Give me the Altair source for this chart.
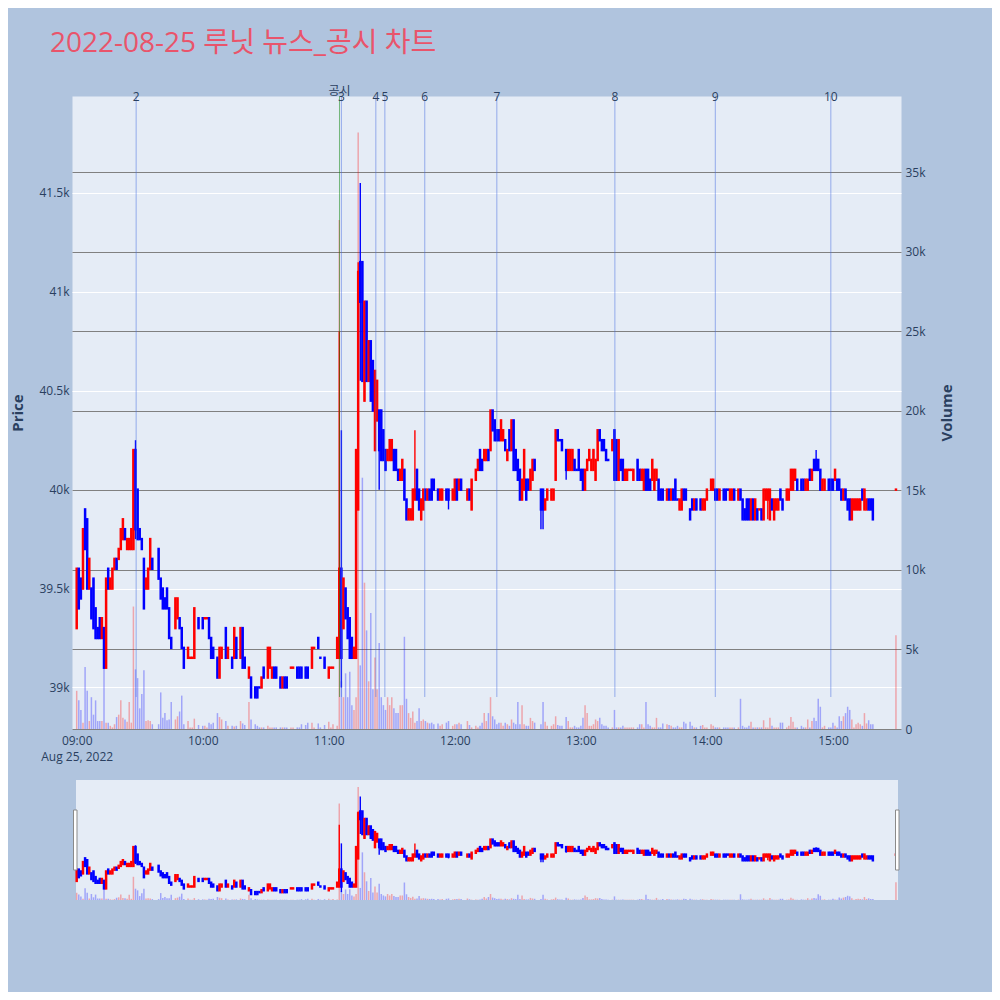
import altair as alt
import pandas as pd

TITLE = "2022-08-25 루닛 뉴스_공시 차트"
SESSION_DATE = "2022-08-25"

# minutes after 09:00 for each 1-minute candle
MINUTE = [
    0, 1, 2, 3, 4, 5, 6, 7, 8, 9,
    10, 11, 12, 13, 14, 15, 16, 17, 18, 19,
    20, 21, 22, 23, 24, 25, 26, 27, 28, 29,
    30, 31, 32, 33, 34, 35, 36, 39, 40, 41,
    42, 43, 44, 45, 47, 48, 49, 50, 51, 53,
    54, 55, 56, 58, 60, 61, 62, 63, 64, 65,
    67, 68, 69, 71, 72, 74, 75, 76, 78, 79,
    80, 82, 83, 85, 86, 87, 88, 89, 91, 92,
    93, 94, 95, 97, 98, 99, 100, 102, 103, 105,
    106, 107, 109, 110, 112, 113, 115, 116, 118, 120,
    121, 122, 124, 125, 126, 127, 128, 129, 130, 131,
    132, 133, 134, 135, 136, 137, 138, 139, 140, 141,
    142, 143, 144, 145, 146, 147, 148, 149, 150, 151,
    152, 153, 154, 155, 156, 157, 158, 159, 160, 161,
    162, 163, 164, 165, 166, 167, 168, 169, 170, 172,
    173, 174, 176, 177, 179, 180, 181, 182, 183, 186,
    187, 188, 190, 191, 192, 193, 194, 195, 196, 197,
    198, 199, 200, 201, 202, 203, 204, 205, 206, 207,
    208, 209, 210, 211, 212, 213, 214, 215, 216, 217,
    218, 221, 222, 223, 224, 226, 227, 228, 229, 230,
    231, 233, 234, 235, 236, 237, 238, 239, 240, 241,
    242, 243, 244, 245, 246, 247, 248, 249, 250, 251,
    252, 253, 255, 256, 257, 258, 259, 260, 261, 262,
    263, 264, 265, 267, 268, 269, 270, 271, 272, 273,
    274, 275, 276, 277, 278, 279, 281, 282, 283, 284,
    285, 286, 287, 288, 289, 290, 292, 293, 294, 295,
    297, 298, 299, 300, 302, 303, 304, 305, 306, 308,
    309, 310, 311, 312, 313, 315, 316, 317, 318, 319,
    320, 321, 322, 323, 324, 325, 326, 327, 328, 329,
    330, 331, 332, 333, 334, 335, 336, 338, 339, 340,
    341, 342, 343, 345, 346, 347, 348, 349, 350, 351,
    352, 353, 354, 355, 356, 358, 359, 360, 361, 362,
    363, 364, 365, 366, 367, 368, 369, 370, 371, 372,
    373, 374, 375, 376, 377, 378, 379, 390,
]

OPEN = [
    39300, 39600, 39550, 39500, 39900, 39850, 39500, 39500, 39550, 39400,
    39300, 39350, 39250, 39300, 39100, 39600, 39500, 39500, 39600, 39650,
    39650, 39700, 39750, 39800, 39700, 39700, 39700, 39700, 40200, 40000,
    39800, 39750, 39650, 39500, 39500, 39600, 39650, 39700, 39550, 39500,
    39450, 39500, 39400, 39250, 39300, 39350, 39350, 39300, 39200, 39150,
    39150, 39150, 39150, 39350, 39350, 39350, 39350, 39350, 39250, 39200,
    39150, 39050, 39150, 39300, 39150, 39150, 39150, 39250, 39150, 39300,
    39150, 39050, 39050, 39000, 39000, 39000, 39000, 39100, 39050, 39100,
    39050, 39100, 39100, 39050, 39000, 39050, 39050, 39100, 39100, 39100,
    39100, 39100, 39100, 39100, 39100, 39200, 39250, 39150, 39150, 39050,
    39100, 39100, 39150, 39150, 39600, 39300, 39500, 39400, 39350, 39250,
    39150, 39150, 39900, 41150, 41150, 40450, 40950, 40550, 40750, 40650,
    40200, 40350, 40400, 40400, 40300, 40200, 40150, 40150, 40150, 40200,
    40200, 40100, 40050, 40050, 40100, 39950, 39850, 39850, 39850, 39950,
    40100, 40000, 39850, 39900, 40000, 39950, 40000, 40050, 40050, 40000,
    39950, 39950, 40000, 40000, 39950, 39950, 40050, 40000, 40050, 39950,
    40000, 39900, 40050, 40100, 40200, 40150, 40150, 40150, 40200, 40200,
    40400, 40350, 40300, 40300, 40250, 40250, 40250, 40150, 40300, 40200,
    40350, 40200, 40150, 40100, 39950, 40000, 40050, 40050, 40000, 40050,
    40150, 40000, 40000, 39900, 39950, 39950, 39950, 40050, 40300, 40250,
    40250, 40200, 40100, 40100, 40100, 40150, 40100, 40200, 40100, 40100,
    40000, 40100, 40150, 40100, 40100, 40050, 40150, 40300, 40250, 40250,
    40200, 40150, 40200, 40300, 40250, 40050, 40150, 40150, 40050, 40050,
    40100, 40100, 40050, 40150, 40100, 40050, 40000, 40100, 40100, 40050,
    40050, 40000, 40050, 40050, 40000, 40000, 39950, 40000, 39950, 40000,
    40050, 39950, 39900, 39900, 40000, 40000, 39900, 39950, 39900, 39950,
    39950, 39900, 39900, 39950, 40000, 40000, 40000, 40000, 39950, 40000,
    40000, 40000, 39950, 39950, 40000, 39950, 40000, 39950, 39900, 39950,
    39950, 39850, 39950, 39850, 39900, 39900, 39900, 39850, 39950, 39950,
    39850, 39950, 39850, 39900, 39900, 40000, 39950, 39950, 39950, 40000,
    40000, 40050, 40050, 40050, 40050, 40000, 40000, 40100, 40050, 40150,
    40150, 40150, 40100, 40000, 40000, 40050, 40050, 40050, 40050, 40050,
    40050, 40000, 39950, 40000, 39950, 39950, 39850, 39900, 39900, 39900,
    39900, 40000, 39900, 39900, 39950, 39950, 39950, 40000,
]

HIGH = [
    39600, 39600, 39550, 39800, 39900, 39850, 39650, 39500, 39550, 39400,
    39300, 39350, 39350, 39300, 39550, 39600, 39550, 39600, 39650, 39650,
    39700, 39800, 39850, 39800, 39750, 39750, 39800, 40200, 40250, 40000,
    39800, 39750, 39650, 39550, 39600, 39750, 39650, 39700, 39550, 39500,
    39450, 39500, 39400, 39250, 39450, 39450, 39350, 39300, 39200, 39200,
    39150, 39150, 39400, 39350, 39350, 39350, 39350, 39350, 39250, 39200,
    39150, 39200, 39200, 39300, 39200, 39150, 39300, 39250, 39300, 39300,
    39150, 39100, 39050, 39000, 39000, 39000, 39050, 39100, 39200, 39200,
    39100, 39100, 39100, 39050, 39050, 39050, 39050, 39100, 39100, 39100,
    39100, 39100, 39100, 39100, 39200, 39200, 39250, 39150, 39150, 39100,
    39100, 39100, 39250, 40800, 40300, 39550, 39500, 39400, 39350, 39250,
    39200, 40200, 41150, 41550, 41150, 40950, 40950, 40750, 40750, 40650,
    40600, 40550, 40400, 40400, 40300, 40200, 40200, 40250, 40250, 40200,
    40200, 40100, 40100, 40150, 40100, 39950, 39900, 39900, 40000, 40300,
    40100, 40000, 39950, 40000, 40000, 40000, 40000, 40050, 40050, 40000,
    40000, 40000, 40000, 40000, 40000, 40050, 40050, 40050, 40050, 40000,
    40000, 40050, 40100, 40150, 40200, 40150, 40200, 40200, 40200, 40400,
    40400, 40350, 40300, 40300, 40350, 40300, 40250, 40200, 40300, 40350,
    40350, 40200, 40150, 40100, 40050, 40200, 40050, 40050, 40100, 40150,
    40150, 40000, 40000, 39950, 40000, 40000, 40000, 40300, 40300, 40250,
    40250, 40200, 40200, 40200, 40200, 40150, 40100, 40200, 40100, 40100,
    40100, 40150, 40200, 40150, 40200, 40150, 40300, 40300, 40250, 40250,
    40200, 40150, 40250, 40300, 40250, 40250, 40150, 40150, 40100, 40100,
    40100, 40100, 40100, 40150, 40100, 40100, 40100, 40100, 40100, 40050,
    40150, 40100, 40100, 40050, 40000, 40000, 40000, 40000, 40000, 40000,
    40050, 39950, 39950, 40000, 40000, 40000, 39900, 39950, 39950, 39950,
    39950, 39950, 39950, 40000, 40050, 40050, 40000, 40000, 40000, 40000,
    40000, 40000, 40000, 40000, 40000, 40000, 40000, 39950, 39900, 39950,
    39950, 39950, 39950, 39950, 39900, 39900, 39900, 40000, 40000, 40000,
    40000, 39950, 39950, 39950, 39950, 40000, 39950, 40000, 40000, 40100,
    40100, 40100, 40050, 40050, 40050, 40050, 40050, 40100, 40100, 40150,
    40200, 40150, 40100, 40050, 40050, 40050, 40050, 40050, 40100, 40050,
    40050, 40000, 40000, 40000, 39950, 39950, 39950, 39950, 39950, 39950,
    39950, 40000, 40000, 39950, 39950, 39950, 39950, 40000,
]

LOW = [
    39300, 39400, 39450, 39500, 39700, 39500, 39500, 39350, 39300, 39250,
    39250, 39250, 39250, 39100, 39100, 39500, 39500, 39500, 39600, 39600,
    39650, 39700, 39750, 39750, 39700, 39700, 39700, 39700, 39750, 39750,
    39750, 39700, 39400, 39500, 39500, 39600, 39600, 39550, 39450, 39400,
    39400, 39400, 39250, 39200, 39300, 39350, 39300, 39200, 39100, 39150,
    39150, 39150, 39150, 39300, 39300, 39350, 39350, 39250, 39150, 39150,
    39050, 39050, 39150, 39150, 39150, 39100, 39150, 39150, 39150, 39100,
    39100, 39050, 38950, 38950, 38950, 39000, 39000, 39050, 39050, 39100,
    39050, 39050, 39050, 39000, 39000, 39000, 39000, 39100, 39100, 39050,
    39050, 39050, 39050, 39050, 39100, 39200, 39200, 39150, 39100, 39050,
    39100, 39100, 39150, 39150, 39000, 39300, 39350, 39250, 39150, 39150,
    39150, 39150, 39900, 40550, 40550, 40450, 40550, 40550, 40450, 40400,
    40200, 40350, 40000, 40150, 40150, 40100, 40150, 40150, 40150, 40100,
    40100, 40050, 40050, 40050, 39950, 39850, 39850, 39850, 39850, 39950,
    39950, 39900, 39850, 39900, 39950, 39950, 39950, 39950, 40000, 39950,
    39950, 39950, 39950, 39900, 39950, 39950, 39950, 40000, 40000, 39950,
    39950, 39900, 40050, 40100, 40100, 40100, 40150, 40150, 40150, 40200,
    40300, 40250, 40250, 40250, 40250, 40250, 40200, 40150, 40200, 40200,
    40100, 40100, 40050, 39950, 39950, 40000, 39950, 40000, 40000, 40050,
    40100, 39800, 39800, 39900, 39950, 39950, 39950, 40050, 40250, 40250,
    40200, 40050, 40100, 40100, 40100, 40100, 40100, 40100, 40050, 40000,
    40000, 40100, 40150, 40100, 40100, 40050, 40150, 40250, 40200, 40200,
    40150, 40150, 40200, 40050, 40050, 40050, 40100, 40050, 40050, 40050,
    40100, 40100, 40050, 40050, 40050, 40050, 40000, 40000, 40000, 40000,
    40050, 40000, 40050, 39950, 39950, 39950, 39950, 39950, 39950, 39950,
    39950, 39950, 39900, 39900, 39950, 39950, 39850, 39900, 39900, 39900,
    39900, 39900, 39900, 39950, 40000, 40000, 39950, 39950, 39950, 39950,
    39950, 40000, 39950, 39950, 39950, 39950, 39950, 39850, 39850, 39850,
    39850, 39850, 39850, 39850, 39850, 39900, 39850, 39850, 39950, 39850,
    39850, 39900, 39850, 39900, 39900, 39950, 39900, 39950, 39950, 40000,
    40000, 40050, 40000, 40000, 40000, 40000, 40000, 40050, 40050, 40100,
    40100, 40100, 40000, 40000, 40000, 40000, 40000, 40000, 40050, 40000,
    40000, 39950, 39950, 39950, 39900, 39850, 39850, 39900, 39900, 39900,
    39900, 39950, 39900, 39900, 39900, 39900, 39850, 40000,
]

CLOSE = [
    39600, 39400, 39450, 39800, 39700, 39500, 39650, 39350, 39300, 39250,
    39250, 39250, 39350, 39100, 39550, 39500, 39550, 39600, 39650, 39600,
    39700, 39800, 39850, 39750, 39750, 39750, 39800, 40200, 39800, 39750,
    39750, 39700, 39400, 39550, 39600, 39750, 39600, 39550, 39450, 39400,
    39400, 39400, 39250, 39200, 39450, 39450, 39300, 39200, 39100, 39200,
    39150, 39150, 39400, 39300, 39300, 39350, 39350, 39250, 39150, 39150,
    39050, 39200, 39200, 39150, 39200, 39100, 39300, 39150, 39300, 39100,
    39100, 39100, 38950, 38950, 38950, 39000, 39050, 39050, 39200, 39200,
    39100, 39050, 39050, 39000, 39050, 39000, 39000, 39100, 39100, 39050,
    39050, 39050, 39050, 39050, 39200, 39200, 39200, 39150, 39100, 39100,
    39100, 39100, 39250, 39600, 39150, 39550, 39350, 39250, 39150, 39150,
    39200, 40200, 41100, 40950, 40550, 40950, 40550, 40750, 40450, 40400,
    40600, 40550, 40200, 40150, 40150, 40100, 40200, 40250, 40250, 40100,
    40100, 40050, 40100, 40150, 39950, 39850, 39900, 39900, 40000, 40000,
    39950, 39900, 39950, 40000, 39950, 40000, 39950, 39950, 40000, 39950,
    40000, 40000, 39950, 39950, 40000, 40050, 39950, 40050, 40000, 40000,
    39950, 40050, 40100, 40150, 40100, 40100, 40200, 40200, 40150, 40400,
    40300, 40250, 40250, 40250, 40350, 40300, 40200, 40200, 40200, 40350,
    40100, 40100, 40050, 39950, 40050, 40200, 39950, 40000, 40100, 40150,
    40100, 39900, 39900, 39950, 40000, 40000, 40000, 40300, 40250, 40250,
    40200, 40100, 40200, 40200, 40200, 40100, 40100, 40100, 40050, 40000,
    40100, 40150, 40200, 40150, 40200, 40150, 40300, 40250, 40200, 40200,
    40150, 40150, 40250, 40050, 40050, 40250, 40100, 40050, 40100, 40100,
    40100, 40100, 40100, 40050, 40050, 40100, 40100, 40000, 40000, 40000,
    40150, 40100, 40100, 39950, 39950, 39950, 40000, 39950, 40000, 39950,
    39950, 39950, 39950, 40000, 39950, 39950, 39850, 39900, 39950, 39900,
    39900, 39950, 39950, 40000, 40050, 40050, 39950, 39950, 40000, 39950,
    39950, 40000, 40000, 40000, 39950, 40000, 39950, 39850, 39850, 39850,
    39850, 39950, 39850, 39950, 39850, 39900, 39850, 40000, 40000, 40000,
    40000, 39900, 39950, 39950, 39950, 39950, 39900, 40000, 40000, 40100,
    40100, 40100, 40000, 40000, 40000, 40050, 40050, 40050, 40100, 40100,
    40100, 40100, 40000, 40050, 40050, 40000, 40000, 40000, 40100, 40000,
    40000, 39950, 40000, 39950, 39900, 39850, 39950, 39950, 39950, 39950,
    39950, 39950, 40000, 39950, 39900, 39900, 39850, 40000,
]

VOLUME = [
    2400, 1800, 1200, 400, 3900, 2400, 500, 2000, 900, 1800,
    500, 500, 500, 4200, 400, 400, 200, 100, 300, 750,
    900, 1800, 700, 600, 450, 1700, 400, 7700, 3750, 3200,
    1300, 2200, 3700, 500, 550, 500, 300, 300, 2300, 700,
    1000, 550, 600, 1700, 600, 800, 1100, 2100, 300, 500,
    100, 100, 650, 250, 200, 200, 100, 400, 300, 400,
    1000, 750, 600, 500, 200, 200, 150, 200, 500, 350,
    250, 1700, 600, 300, 200, 100, 100, 100, 200, 100,
    100, 100, 100, 100, 100, 100, 100, 100, 100, 100,
    100, 300, 250, 400, 400, 100, 350, 100, 250, 450,
    100, 300, 200, 32000, 3000, 2000, 3500, 2000, 3600, 1500,
    1200, 2000, 37500, 4000, 15800, 9200, 6200, 3000, 7300, 2500,
    4500, 2500, 5400, 2000, 1500, 1200, 2000, 1500, 2000, 1300,
    1000, 1000, 1500, 1500, 5800, 1900, 1000, 700, 1100, 400,
    500, 1300, 500, 600, 500, 400, 350, 400, 300, 350,
    200, 300, 400, 500, 200, 300, 300, 400, 300, 500,
    250, 100, 200, 100, 200, 400, 1000, 500, 1000, 2000,
    800, 600, 300, 400, 400, 200, 400, 300, 200, 600,
    400, 300, 1700, 300, 1500, 300, 200, 200, 700, 500,
    400, 300, 1700, 450, 200, 200, 300, 800, 250, 200,
    200, 750, 500, 100, 100, 200, 100, 100, 200, 700,
    1500, 1000, 200, 200, 300, 600, 500, 700, 300, 200,
    200, 100, 100, 1200, 100, 100, 100, 200, 100, 100,
    100, 100, 100, 100, 300, 300, 100, 1700, 300, 200,
    100, 100, 700, 100, 100, 350, 300, 250, 200, 100,
    100, 200, 100, 100, 450, 350, 450, 200, 100, 100,
    200, 250, 100, 100, 300, 200, 100, 100, 100, 100,
    100, 100, 100, 100, 100, 100, 1900, 200, 100, 100,
    200, 450, 100, 100, 100, 100, 100, 550, 100, 100,
    700, 200, 100, 100, 100, 400, 400, 100, 200, 750,
    450, 100, 100, 200, 100, 100, 600, 100, 500, 700,
    500, 1900, 1400, 100, 200, 100, 100, 400, 200, 100,
    800, 500, 800, 1000, 1400, 1200, 600, 100, 300, 400,
    300, 200, 1000, 350, 550, 300, 300, 5900,
]

# flat candles (open == close) that were drawn in the falling colour
DOJI_DOWN = [87, 116, 230, 238, 253, 286, 310]

NEWS_LABEL = ["2", "공시", "3", "4", "5", "6", "7", "8", "9", "10"]
NEWS_KIND = ["뉴스", "공시", "뉴스", "뉴스", "뉴스", "뉴스", "뉴스", "뉴스", "뉴스", "뉴스"]
NEWS_TIME = ["09:28:18", "11:05:06", "11:06:00", "11:22:24", "11:26:42",
             "11:45:42", "12:20:00", "13:16:12", "14:04:00", "14:59:00"]

PRICE_TICKS = [39000, 39500, 40000, 40500, 41000, 41500]
VOLUME_TICKS = [0, 5000, 10000, 15000, 20000, 25000, 30000, 35000]
HOUR_TICKS = [9, 10, 11, 12, 13, 14, 15]
PRICE_DOMAIN = [38790, 41990]
VOLUME_DOMAIN = [0, 39800]

UP_COLOR, DOWN_COLOR = "#FF0000", "#0000FF"
PAPER, PLOT_BG = "#B0C4DE", "#E5ECF6"
FONT_COLOR = "#2a3f5f"
FONT = "Open Sans, Noto Sans CJK KR"

W, H = 829, 633
SL_TOP, SL_BOT = 684, 804

start = pd.Timestamp(f"{SESSION_DATE} 09:00:00")
candles = pd.DataFrame({
    "t": start + pd.to_timedelta(MINUTE, unit="m"),
    "open": OPEN, "high": HIGH, "low": LOW, "close": CLOSE, "volume": VOLUME,
})


def _direction(o, c, m):
    if c > o:
        return "up"
    if c < o:
        return "down"
    return "down" if m in DOJI_DOWN else "up"


candles["dir"] = [_direction(o, c, m) for o, c, m in zip(OPEN, CLOSE, MINUTE)]

news = pd.DataFrame({
    "t": pd.to_datetime([f"{SESSION_DATE} {s}" for s in NEWS_TIME]),
    "label": NEWS_LABEL,
    "kind": NEWS_KIND,
})


def dt(h, m=0, s=0):
    return alt.DateTime(year=2022, month=8, date=25, hours=h, minutes=m, seconds=s)


x_scale = alt.Scale(domain=[dt(8, 57, 46), dt(15, 32, 24)])
x_axis = alt.Axis(
    values=[dt(h) for h in HOUR_TICKS],
    labelExpr="hours(datum.value) == 9 ? [timeFormat(datum.value, '%H:%M'), timeFormat(datum.value, '%b %-d, %Y')] : timeFormat(datum.value, '%H:%M')",
    grid=False, title=None, labelPadding=6, labelLineHeight=16,
    labelOverlap=False, labelFlush=False,
)
X = alt.X("t:T", scale=x_scale, axis=x_axis)
color = alt.Color("dir:N", scale=alt.Scale(domain=["up", "down"], range=[UP_COLOR, DOWN_COLOR]), legend=None)

price_main = alt.Scale(domain=PRICE_DOMAIN, range=[H, 0])
vol_main = alt.Scale(domain=VOLUME_DOMAIN, range=[H, 0])
price_slider = alt.Scale(domain=PRICE_DOMAIN, range=[SL_BOT, SL_TOP])
vol_slider = alt.Scale(domain=VOLUME_DOMAIN, range=[SL_BOT, SL_TOP])

price_axis = alt.Axis(
    orient="left", values=PRICE_TICKS, labelExpr="datum.value / 1000 + 'k'",
    grid=True, gridColor="white", gridWidth=1, labelPadding=3,
    title="Price", titleFontSize=15, titleFontWeight="bold", titleX=-55, titleY=H / 2,
    titleAngle=270, titleAlign="center", titleBaseline="middle",
)
volume_axis = alt.Axis(
    orient="right", values=VOLUME_TICKS,
    labelExpr="datum.value == 0 ? '0' : datum.value / 1000 + 'k'",
    grid=True, gridColor="#808080", gridWidth=1, labelPadding=4,
    title="Volume", titleFontSize=15, titleFontWeight="bold", titleX=45, titleY=H / 2,
    titleAngle=270, titleAlign="center", titleBaseline="middle",
)

base = alt.Chart(candles)

wick = base.mark_rule(strokeWidth=1.4).encode(
    x=X, y=alt.Y("low:Q", scale=price_main, axis=price_axis), y2="high:Q", color=color)
vol = base.mark_rule(strokeWidth=1.5, opacity=0.3).encode(
    x=X, y=alt.Y("volume:Q", scale=vol_main, axis=volume_axis), y2=alt.datum(0), color=color)
body = base.mark_rule(strokeWidth=2.5, strokeCap="square").encode(
    x=X, y=alt.Y("open:Q", scale=price_main, axis=None), y2="close:Q", color=color)

nb = alt.Chart(news)
news_lines = nb.transform_filter(alt.datum.kind == "뉴스").mark_rule(
    strokeWidth=1, color="#4169E1", opacity=0.5).encode(x=X, y=alt.value(0), y2=alt.value(601))
disc_line = nb.transform_filter(alt.datum.kind == "공시").mark_rule(
    strokeWidth=1, color="#008000", opacity=0.5).encode(x=X, y=alt.value(0), y2=alt.value(601))
news_text = nb.transform_filter(alt.datum.kind == "뉴스").mark_text(
    fontSize=12, color=FONT_COLOR, baseline="middle", font=FONT).encode(x=X, y=alt.value(1), text="label:N")
disc_text = nb.transform_filter(alt.datum.kind == "공시").mark_text(
    fontSize=12, color=FONT_COLOR, baseline="middle", font=FONT).encode(x=X, y=alt.value(-5), text="label:N")

panel = alt.Chart(pd.DataFrame({"part": ["rangeslider"]}))
slider_bg = panel.mark_rect(color=PLOT_BG).encode(
    x=alt.value(4), x2=alt.value(826), y=alt.value(SL_TOP), y2=alt.value(SL_BOT))
handle_l = panel.mark_rect(fill="white", stroke="#8a8a8a", strokeWidth=1).encode(
    x=alt.value(1.5), x2=alt.value(5), y=alt.value(714), y2=alt.value(774))
handle_r = panel.mark_rect(fill="white", stroke="#8a8a8a", strokeWidth=1).encode(
    x=alt.value(823.5), x2=alt.value(827), y=alt.value(714), y2=alt.value(774))

sl_vol = base.mark_rule(strokeWidth=1.5, opacity=0.3).encode(
    x=X, y=alt.Y("volume:Q", scale=vol_slider, axis=None), y2=alt.datum(0), color=color)
sl_wick = base.mark_rule(strokeWidth=1.4).encode(
    x=X, y=alt.Y("low:Q", scale=price_slider, axis=None), y2="high:Q", color=color)
sl_body = base.mark_rule(strokeWidth=2.5, strokeCap="square").encode(
    x=X, y=alt.Y("open:Q", scale=price_slider, axis=None), y2="close:Q", color=color)

chart = alt.layer(
    wick, vol, body, news_lines, disc_line, news_text, disc_text,
    slider_bg, sl_vol, sl_wick, sl_body, handle_l, handle_r,
).resolve_scale(
    y="independent"
).properties(
    width=W, height=H,
    padding={"left": 64, "top": 88, "right": 91, "bottom": 263},
    autosize=alt.AutoSizeParams(type="none"),
    title=alt.TitleParams(
        text=TITLE, anchor="start", frame="group", dx=-22, offset=5,
        fontSize=28, font=FONT, color="#E9546B", fontWeight="normal", baseline="alphabetic",
    ),
).configure(
    background=PAPER, font="Open Sans",
).configure_view(
    fill=PLOT_BG, stroke="transparent",
).configure_axis(
    labelFont=FONT, labelFontSize=12, labelColor=FONT_COLOR,
    titleFont=FONT, titleColor=FONT_COLOR, domain=False, ticks=False,
)

chart.save("out.html", embed_options={"renderer": "svg", "actions": False})
